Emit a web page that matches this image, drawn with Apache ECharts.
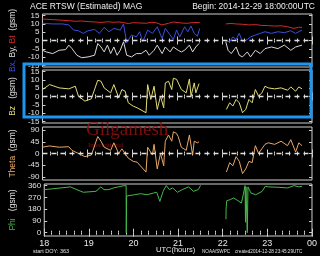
<!DOCTYPE html>
<html><head><meta charset="utf-8">
<script src="https://cdn.jsdelivr.net/npm/echarts@6/dist/echarts.min.js"></script>
<style>html,body{margin:0;padding:0;background:#000}#c{width:320px;height:256px}</style>
</head><body><div id="c"></div><script>
// ---- data: [UTC hour, value] ----
const btData = [[18.00,13.0],[18.10,12.8],[18.228,12.6],[18.35,12.4],[18.443,12.2],[18.58,12.0],[18.73,11.6],[18.87,11.8],[19.016,11.4],[19.16,11.2],[19.303,10.9],[19.45,11.3],[19.589,11.0],[19.70,11.2],[19.804,10.8],[19.92,10.2],[20.019,10.8],[20.15,10.6],[20.305,10.4],[20.42,11.0],[20.52,10.8],[20.663,9.4],[20.806,10.4],[20.92,11.2],[21.021,10.8],[21.13,10.5],[21.235,10.4],[21.36,10.9],[21.50,10.8],[21.8,null],[22.081,10.0],[22.20,10.3],[22.31,10.0],[22.45,9.8],[22.596,9.4],[22.74,9.6],[22.883,9.1],[23.03,9.0],[23.169,8.7],[23.31,8.9],[23.456,8.3],[23.599,7.3],[23.70,8.0],[23.778,7.9]];
const bxData = [[18.00,10.4],[18.228,10.0],[18.443,10.0],[18.586,9.4],[18.694,6.3],[18.801,5.9],[18.909,4.3],[19.016,5.9],[19.16,6.7],[19.267,4.3],[19.374,7.9],[19.482,5.3],[19.589,7.3],[19.732,6.3],[19.804,10.0],[19.876,-1.4],[19.983,3.3],[20.09,2.2],[20.162,5.3],[20.233,-0.8],[20.341,6.3],[20.448,4.3],[20.555,8.3],[20.663,1.2],[20.734,7.3],[20.842,3.3],[20.913,0.6],[20.985,6.3],[21.056,2.2],[21.164,8.3],[21.235,5.3],[21.307,8.7],[21.379,4.3],[21.45,2.6],[21.5,7.3],[21.8,null],[22.081,-0.2],[22.167,-0.8],[22.238,2.2],[22.31,0.6],[22.381,4.3],[22.453,-0.8],[22.56,0.6],[22.632,2.2],[22.739,3.3],[22.847,4.3],[22.954,5.3],[23.098,4.3],[23.241,5.3],[23.384,4.7],[23.528,5.9],[23.635,4.3],[23.778,6.3]];
const byData = [[18.00,-5.9],[18.085,-6.9],[18.228,-7.9],[18.372,-5.9],[18.515,-5.5],[18.586,-2.8],[18.658,-4.9],[18.766,-8.9],[18.873,-10.4],[19.016,-9.9],[19.16,-8.9],[19.231,-1.8],[19.303,-3.9],[19.374,-6.9],[19.446,-2.8],[19.518,-7.9],[19.589,-3.9],[19.661,-8.9],[19.732,-5.9],[19.804,-0.8],[19.876,-8.9],[19.983,-9.9],[20.09,-7.9],[20.198,-7.9],[20.305,-5.9],[20.376,-8.9],[20.484,-5.9],[20.555,-2.8],[20.663,-7.9],[20.734,-3.9],[20.842,-6.9],[20.913,-3.9],[21.021,-5.9],[21.092,-6.9],[21.164,-5.9],[21.271,-2.8],[21.343,-6.9],[21.414,-3.9],[21.486,-1.8],[21.8,null],[22.081,-0.8],[22.131,-5.9],[22.202,-7.9],[22.31,-3.9],[22.381,-8.9],[22.453,-9.9],[22.56,-6.9],[22.632,-9.9],[22.739,-5.9],[22.847,-7.9],[22.954,-4.9],[23.098,-3.9],[23.241,-4.9],[23.384,-2.8],[23.528,-5.9],[23.635,-3.9],[23.778,-2.8]];
const bzData = [[18.00,4.2],[18.157,7.2],[18.372,5.2],[18.586,4.6],[18.73,6.2],[18.801,0.2],[18.945,-2.8],[19.088,-1.4],[19.231,9.8],[19.303,9.2],[19.374,5.2],[19.518,2.2],[19.589,7.2],[19.697,-0.8],[19.768,4.2],[19.84,3.2],[19.911,-3.8],[20.019,-5.8],[20.105,-6.8],[20.305,-9.8],[20.341,7.2],[20.412,-1.8],[20.484,6.2],[20.555,-7.8],[20.627,0.2],[20.699,-6.8],[20.734,8.2],[20.806,9.2],[20.878,4.2],[20.913,11.0],[20.985,10.4],[21.021,9.8],[21.092,4.2],[21.2,2.2],[21.271,10.6],[21.307,0.2],[21.379,8.2],[21.414,2.2],[21.486,7.8],[21.8,null],[22.095,-7.8],[22.167,-3.8],[22.238,-5.8],[22.31,-1.8],[22.381,-3.8],[22.453,-9.8],[22.525,-7.8],[22.596,-1.8],[22.668,-3.8],[22.739,4.2],[22.811,0.2],[22.883,2.2],[22.954,6.2],[23.026,5.2],[23.169,4.6],[23.312,5.2],[23.456,3.8],[23.528,5.8],[23.635,3.2],[23.707,5.8],[23.778,4.6]];
const thetaData = [[18.00,24],[18.157,29],[18.372,24],[18.586,26],[18.658,12],[18.801,0],[18.945,-12],[19.088,-6],[19.231,65],[19.303,47],[19.374,24],[19.518,12],[19.589,41],[19.697,0],[19.768,18],[19.911,-18],[20.019,-30],[20.105,-33],[20.305,-71],[20.341,24],[20.448,-6],[20.484,35],[20.555,-59],[20.627,0],[20.699,-47],[20.734,47],[20.806,71],[20.878,47],[20.913,83],[20.985,77],[21.021,65],[21.092,24],[21.2,12],[21.271,71],[21.343,-6],[21.379,47],[21.45,41],[21.486,45],[21.8,null],[22.095,-71],[22.167,-35],[22.238,-47],[22.31,-12],[22.381,-30],[22.453,-77],[22.525,-59],[22.596,-30],[22.668,-35],[22.739,30],[22.811,0],[22.883,18],[22.954,35],[23.026,41],[23.169,35],[23.312,47],[23.456,30],[23.528,53],[23.635,6],[23.707,41],[23.778,30]];
const phiData = [[18.00,329],[18.157,334],[18.372,342],[18.586,350],[18.622,355],[18.73,329],[18.873,309],[19.16,316],[19.267,350],[19.339,329],[19.446,329],[19.554,342],[19.661,350],[19.768,358],[19.835,360],[19.838,0],[19.842,0],[19.846,280],[19.876,265],[20.019,290],[20.162,298],[20.305,290],[20.448,303],[20.52,309],[20.591,239],[20.663,316],[20.734,360],[20.806,329],[20.878,342],[20.985,309],[21.092,329],[21.235,350],[21.343,316],[21.45,329],[21.486,350],[21.5,362],[21.8,null],[22.072,103],[22.076,188],[22.09,245],[22.131,239],[22.167,252],[22.238,265],[22.31,252],[22.418,226],[22.467,303],[22.50,360],[22.51,80],[22.52,350],[22.545,355],[22.55,0],[22.558,0],[22.565,350],[22.596,340],[22.632,303],[22.739,290],[22.883,316],[22.954,355],[23.026,350],[23.241,347],[23.456,342],[23.599,360],[23.707,350],[23.778,355]];

const bTicks = [-15,-10,-5,0,5,10,15];
const thetaTicks = [-90,-45,0,45,90];
const phiTicks = [0,90,180,270,360];
const hourLabels = {18:'18',19:'19',20:'20',21:'21',22:'22',23:'23',24:'00'};

const AX = '#cfcfcf';
const FONT = 'Liberation Sans';
const panels = [
  {top:14, height:53, min:-16, max:16, ticks:bTicks},
  {top:70, height:53, min:-16, max:16, ticks:bTicks},
  {top:127, height:53, min:-101.5, max:101.5, ticks:thetaTicks},
  {top:184, height:52, min:-25, max:372, ticks:phiTicks}
];
const names = [
  '{bx|Bx,} By, {bt|Bt}  (gsm)',
  '{bz|Bz}   (gsm)',
  '{th|Theta}  (gsm)',
  '{ph|Phi}   (gsm)'
];
const NF = 8.5;
const rich = {
  bx:{color:'#3b4ee0',fontSize:NF,fontFamily:FONT},
  bt:{color:'#d42828',fontSize:NF,fontFamily:FONT},
  bz:{color:'#e2dc74',fontSize:NF,fontFamily:FONT},
  th:{color:'#e8a868',fontSize:NF,fontFamily:FONT},
  ph:{color:'#46b848',fontSize:NF,fontFamily:FONT}
};

const grid=[], xAxis=[], yAxis=[];
panels.forEach((p,i)=>{
  grid.push({left:32,right:8,top:p.top,height:p.height,show:true,borderColor:AX,borderWidth:1,backgroundColor:'transparent'});
  ['bottom','top'].forEach(pos=>{
    xAxis.push({gridIndex:i,type:'value',min:18,max:24,interval:1,position:pos,
      axisLine:{show:false},splitLine:{show:false},
      axisTick:{show:true,inside:true,length:4,lineStyle:{color:AX}},
      minorTick:{show:true,splitNumber:6,length:2,lineStyle:{color:AX}},
      axisLabel:{show:(i===3&&pos==='bottom'),color:'#e8e8e8',fontSize:9,fontFamily:FONT,margin:3,
        formatter:v=>hourLabels[v]||''}});
  });
  ['left','right'].forEach(pos=>{
    yAxis.push({gridIndex:i,type:'value',min:p.min,max:p.max,position:pos,
      name: pos==='left'?names[i]:'',nameLocation:'middle',nameRotate:90,nameGap:25,
      nameTextStyle:{color:'#e0e0e0',fontSize:NF,fontFamily:FONT,rich:rich},
      axisLine:{show:false},splitLine:{show:false},
      axisTick:{show:true,inside:true,length:3,customValues:p.ticks,lineStyle:{color:AX}},
      axisLabel:{show:pos==='left',customValues:p.ticks,color:'#e0e0e0',fontSize:8,fontFamily:FONT,margin:3}});
  });
});

const zeroLine = {silent:true,symbol:['none','none'],label:{show:false},emphasis:{disabled:true},
  lineStyle:{color:'#e0e0e0',type:[5,4],width:1.3},data:[{yAxis:0}]};
function line(data,color,gi,extra){
  return Object.assign({type:'line',data:data,xAxisIndex:gi*2,yAxisIndex:gi*2,showSymbol:false,
    connectNulls:false,lineStyle:{color:color,width:1},itemStyle:{color:color},animation:false,z:3},extra||{});
}
const series = [
  line(byData,'#d8d8d8',0,{markLine:zeroLine}),
  line(bxData,'#3b4ee0',0),
  line(btData,'#d42828',0),
  line(bzData,'#e2dc74',1,{markLine:zeroLine}),
  line(thetaData,'#e8a868',2,{markLine:zeroLine}),
  line(phiData,'#46b848',3)
];

const chart = echarts.init(document.getElementById('c'),null,{renderer:'canvas'});
chart.setOption({
  backgroundColor:'#000',
  animation:false,
  grid, xAxis, yAxis, series,
  graphic:[
    {type:'text',left:30,top:2,style:{text:'ACE RTSW (Estimated) MAG',fill:'#f0f0f0',fontSize:8.5,fontFamily:FONT}},
    {type:'text',right:5,top:2,style:{text:'Begin: 2014-12-29 18:00:00UTC',fill:'#f0f0f0',fontSize:8.5,fontFamily:FONT}},
    {type:'text',left:86,top:121,z:1,style:{text:'Gilgamesh',fill:'rgba(140,16,16,0.9)',fontSize:19,fontFamily:'Liberation Serif'}},
    {type:'text',left:88,top:142,z:1,style:{text:'International',fill:'rgba(140,16,16,0.9)',fontSize:7,fontFamily:'Liberation Serif'}},
    {type:'text',left:33,top:248,style:{text:'start DOY: 363',fill:'#e0e0e0',fontSize:5.5,fontFamily:FONT}},
    {type:'text',left:156,top:246,style:{text:'UTC(hours)',fill:'#e8e8e8',fontSize:7.5,fontFamily:FONT}},
    {type:'text',left:202,top:249,style:{text:'NOAA/SWPC',fill:'#e0e0e0',fontSize:4.6,fontFamily:FONT}},
    {type:'text',left:235,top:249,style:{text:'created2014-12-28 23:45:29UTC',fill:'#e0e0e0',fontSize:4.6,fontFamily:FONT}},
    {type:'rect',z:100,shape:{x:24,y:64,width:287,height:53},style:{fill:'none',stroke:'#1e96f0',lineWidth:3}}
  ]
});
</script></body></html>
